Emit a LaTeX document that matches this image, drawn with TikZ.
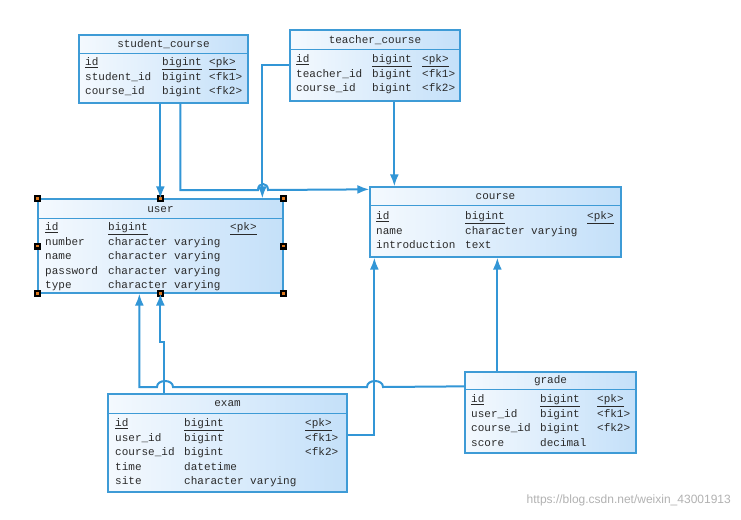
\documentclass[tikz,border=0pt]{standalone}
\usepackage{fontspec}
\setmainfont{Liberation Sans}
\setmonofont{Liberation Mono}
\usetikzlibrary{arrows.meta,calc}

\definecolor{erline}{HTML}{3296D6}
\definecolor{erbox}{HTML}{3E9BD6}
\definecolor{erlight}{HTML}{F4F9FE}
\definecolor{erdark}{HTML}{C4E0F9}
\definecolor{ertext}{HTML}{2A2A2A}
\definecolor{handle}{HTML}{E07A20}
\setlength{\tabcolsep}{0pt}

\begin{document}
\begin{tikzpicture}[x=1pt,y=-1pt,>={Latex[length=12pt,width=9pt]},
    entity/.style={draw=erbox,line width=1.3pt,left color=erlight,right color=erdark,inner sep=0pt},
    enttitle/.style={font=\ttfamily\fontsize{11}{14.5}\selectfont,text=ertext,inner sep=0pt},
    entrows/.style={font=\ttfamily\fontsize{11}{14.5}\selectfont,text=ertext,inner sep=0pt,anchor=north west,align=left},
    sep/.style={draw=erbox,line width=1.3pt},
    link/.style={draw=erline,line width=2pt},
]
    \useasboundingbox[fill=white] (0,0) rectangle (741,519);
    % the tables
    \node[entity,minimum width=169pt,minimum height=68pt] (sc) at (163.5,69) {};
    \node[enttitle] (sc-title) at (163.5,44) {student\_course};
    \draw[sep] ($(sc.north west)+(0,19)$) -- ($(sc.north east)+(0,19)$);
    \node[entrows] (sc-rows) at (85,55.4) {\begin{tabular}{p{77pt}p{47pt}l}
        \underline{id} & \underline{bigint} & \underline{<pk>}\\
        student\_id & bigint & <fk1>\\
        course\_id & bigint & <fk2>\end{tabular}};

    \node[entity,minimum width=170pt,minimum height=71pt] (tc) at (375,65.5) {};
    \node[enttitle] (tc-title) at (375,40) {teacher\_course};
    \draw[sep] ($(tc.north west)+(0,20)$) -- ($(tc.north east)+(0,20)$);
    \node[entrows] (tc-rows) at (296,52.4) {\begin{tabular}{p{76pt}p{50pt}l}
        \underline{id} & \underline{bigint} & \underline{<pk>}\\
        teacher\_id & bigint & <fk1>\\
        course\_id & bigint & <fk2>\end{tabular}};

    \node[entity,minimum width=245pt,minimum height=94pt] (user) at (160.5,246) {};
    \node[enttitle] (user-title) at (160.5,210) {user};
    \draw[sep] ($(user.north west)+(0,20)$) -- ($(user.north east)+(0,20)$);
    \node[entrows] (user-rows) at (45,220.4) {\begin{tabular}{p{63pt}p{122pt}l}
        \underline{id} & \underline{bigint} & \underline{<pk>}\\
        number & character varying & \\
        name & character varying & \\
        password & character varying & \\
        type & character varying & \end{tabular}};

    \node[entity,minimum width=251pt,minimum height=70pt] (course) at (495.5,222) {};
    \node[enttitle] (course-title) at (495.5,197) {course};
    \draw[sep] ($(course.north west)+(0,19)$) -- ($(course.north east)+(0,19)$);
    \node[entrows] (course-rows) at (376,209.4) {\begin{tabular}{p{89pt}p{122pt}l}
        \underline{id} & \underline{bigint} & \underline{<pk>}\\
        name & character varying & \\
        introduction & text & \end{tabular}};

    \node[entity,minimum width=239pt,minimum height=98pt] (exam) at (227.5,443) {};
    \node[enttitle] (exam-title) at (227.5,404) {exam};
    \draw[sep] ($(exam.north west)+(0,20)$) -- ($(exam.north east)+(0,20)$);
    \node[entrows] (exam-rows) at (115,416.4) {\begin{tabular}{p{69pt}p{121pt}l}
        \underline{id} & \underline{bigint} & \underline{<pk>}\\
        user\_id & bigint & <fk1>\\
        course\_id & bigint & <fk2>\\
        time & datetime & \\
        site & character varying & \end{tabular}};

    \node[entity,minimum width=171pt,minimum height=81pt] (grade) at (550.5,412.5) {};
    \node[enttitle] (grade-title) at (550.5,381) {grade};
    \draw[sep] ($(grade.north west)+(0,18)$) -- ($(grade.north east)+(0,18)$);
    \node[entrows] (grade-rows) at (471,392.4) {\begin{tabular}{p{69pt}p{57pt}l}
        \underline{id} & \underline{bigint} & \underline{<pk>}\\
        user\_id & bigint & <fk1>\\
        course\_id & bigint & <fk2>\\
        score & decimal & \end{tabular}};

    % selection handles on user
    \foreach \a in {north west,north,north east,west,east,south west,south,south east} {
        \fill ([shift={(-3.5,-3.5)}]user.\a) rectangle ([shift={(3.5,3.5)}]user.\a);
        \fill[handle] ([shift={(-1.2,-1.2)}]user.\a) rectangle ([shift={(1.2,1.2)}]user.\a);
    }

    % the references
    \draw[link,->] ($(sc.south west)+(82,0)$) -- ($(user.north west)+(123,0)$);
    \draw[link,->] ($(sc.south west)+(102,0)$) |- (258,190)
        .. controls (258,182) and (268,182) .. (268,190) -- ($(course.north west)+(0,3)$);
    \draw[link,->] ($(tc.north west)+(0,36)$) -| ($(user.north west)+(225,0)$);
    \draw[link,->] ($(tc.south west)+(105,0)$) -- ($(course.north west)+(25,0)$);
    \draw[link,->] ($(exam.north west)+(57,0)$) -- ++(0,-51) -- ++(-4,0) -- ($(user.south west)+(123,0)$);
    \draw[link,->] ($(grade.north west)+(0,15)$) -- (383,387)
        .. controls (383,379) and (367,379) .. (367,387) -- (173,387)
        .. controls (173,379) and (157,379) .. (157,387) -| ($(user.south west)+(102,0)$);
    \draw[link,->] ($(exam.north east)+(0,42)$) -| ($(course.south west)+(5,0)$);
    \draw[link,->] ($(grade.north west)+(33,0)$) -- ($(course.south west)+(128,0)$);

    \node[font=\fontsize{12}{14}\selectfont,text=black!30,anchor=east,inner sep=0pt] (mark) at (731,500) {https://blog.csdn.net/weixin\_43001913};
\end{tikzpicture}
\end{document}
